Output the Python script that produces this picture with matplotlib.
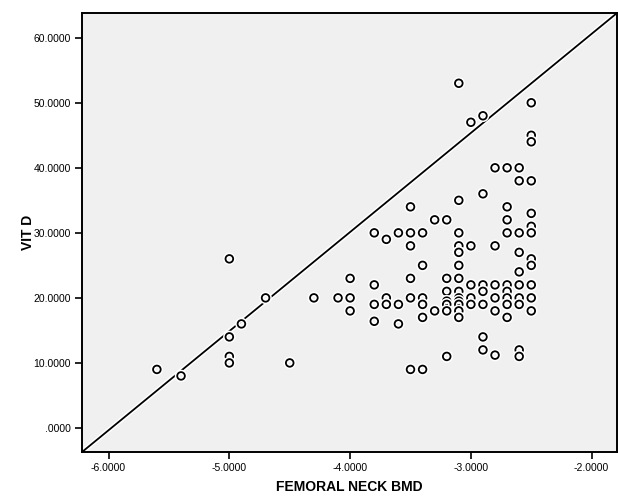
import matplotlib
matplotlib.use("Agg")
import matplotlib.pyplot as plt
import matplotlib.patheffects as pe
from matplotlib.ticker import FuncFormatter, FixedLocator

# Data: FEMORAL NECK BMD (x) vs VIT D (y)
bmd_groups = [-5.6, -5.4, -5.0, -4.9, -4.7, -4.5, -4.3, -4.1, -4.0, -3.8, -3.7, -3.6,
              -3.5, -3.4, -3.3, -3.2, -3.1, -3.0, -2.9, -2.8, -2.7, -2.6, -2.5]
vitd_groups = [
    [9],
    [8],
    [26, 14, 11, 10],
    [16],
    [20],
    [10],
    [20],
    [20],
    [23, 20, 18],
    [30, 22, 19, 16.4],
    [29, 20, 19],
    [30, 19, 16],
    [34, 30, 28, 28, 23, 20, 9],
    [30, 25, 20, 19, 17, 17, 9],
    [32, 18],
    [32, 23, 21, 19.5, 19, 18, 11, 11],
    [53, 35, 30, 28, 27, 27, 25, 23, 21, 20, 19.5, 19, 18, 17],
    [47, 28, 22, 20, 19],
    [48, 36, 22, 21, 19, 14, 12],
    [40, 28, 22, 20, 18, 11.2],
    [40, 34, 32, 30, 22, 21, 20, 19, 19, 17],
    [40, 38, 38, 30, 27, 24, 22, 20, 19, 12, 11],
    [50, 45, 44, 38, 33, 31, 30, 30, 26, 25, 22, 22, 20, 20, 18, 18],
]
x_ticks = [-6.0, -5.0, -4.0, -3.0, -2.0]
y_ticks = [0, 10, 20, 30, 40, 50, 60]
x_label = "FEMORAL NECK BMD"
y_label = "VIT D"

bmd = [x for x, ys in zip(bmd_groups, vitd_groups) for _ in ys]
vitd = [y for ys in vitd_groups for y in ys]

plt.rcParams['font.family'] = ['Liberation Sans', 'DejaVu Sans']

fig = plt.figure(figsize=(6.18, 4.97), dpi=100)
ax = fig.add_axes([0.1327, 0.0905, 0.8657, 0.8833])
ax.set_facecolor('#F0F0F0')

ax.set_xlim(-6.22, -1.79)
ax.set_ylim(-3.7, 63.8)

halo = [pe.withStroke(linewidth=3.5, foreground='white')]

ax.plot([0, 1], [0, 1], transform=ax.transAxes, color='black', lw=1.3,
        path_effects=halo, zorder=2, clip_on=True)

ax.plot(bmd, vitd, linestyle='none', marker='o', markersize=5.5,
        markerfacecolor='none', markeredgecolor='black', markeredgewidth=1.3,
        path_effects=halo, zorder=3)

fmt = lambda v, p: ('%.4f' % v).replace('0.', '.', 1) if abs(v) < 1e-9 else '%.4f' % v
ax.xaxis.set_major_locator(FixedLocator(x_ticks))
ax.yaxis.set_major_locator(FixedLocator(y_ticks))
ax.xaxis.set_major_formatter(FuncFormatter(fmt))
ax.yaxis.set_major_formatter(FuncFormatter(fmt))

ax.tick_params(axis='both', direction='out', length=5, width=1.2, labelsize=7.5,
               colors='black', pad=3)
ax.tick_params(top=False, right=False)

for s in ax.spines.values():
    s.set_linewidth(1.4)
    s.set_color('black')

ax.set_xlabel(x_label, fontsize=10, fontweight='bold', labelpad=5)
ax.set_ylabel(y_label, fontsize=10, fontweight='bold', labelpad=-1)

fig.savefig('out.png', dpi=100)
